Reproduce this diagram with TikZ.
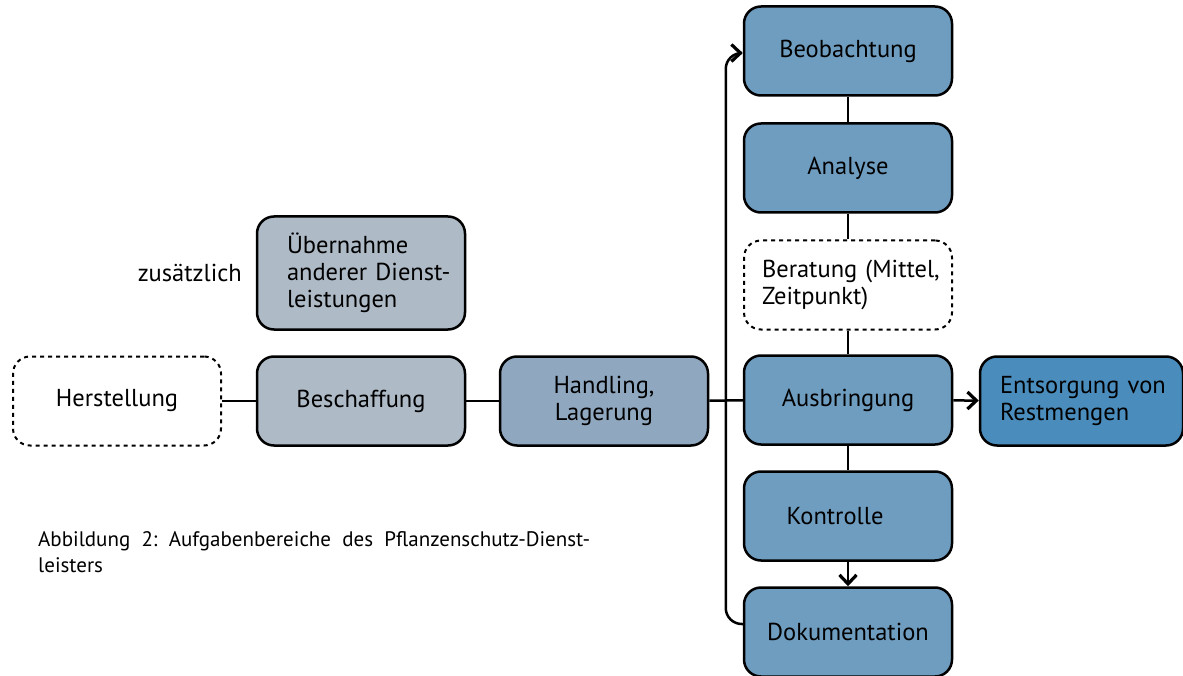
\documentclass[tikz,border=0pt]{standalone}
\usepackage{fontspec}
\setmainfont{PT Sans}
\frenchspacing
\usetikzlibrary{arrows.meta}
\definecolor{cgray}{RGB}{174,186,198}
\definecolor{cmid}{RGB}{143,168,192}
\definecolor{cblue}{RGB}{111,157,192}
\definecolor{cdark}{RGB}{74,141,189}
\tikzset{
  box/.style={draw=black, line width=2.5pt, rounded corners=17pt, minimum width=208pt, minimum height=89pt, inner sep=0pt, font=\fontsize{24.5}{27}\selectfont, align=center},
  dbox/.style={box, dash pattern=on 4pt off 4pt, line width=2pt},
  conn/.style={line width=2.5pt},
  arr/.style={line width=2.5pt, -{Straight Barb[length=9pt,width=17pt,line width=3.2pt]}},
}
\begin{document}
\begin{tikzpicture}[x=1pt,y=-1pt]
\useasboundingbox (0,0) rectangle (1183,676);
% left nodes
\node[dbox] (her) at (117,401) {Herstellung};
\node[box, fill=cgray] (bes) at (361,401) {Beschaffung};
\node[box, fill=cgray, minimum height=113pt, text width=148pt, align=left] (ueb) at (361,273) {\mbox{Übernahme}\\ \mbox{anderer Dienst-}\\ \mbox{leistungen}};
\node[font=\fontsize{24.5}{27}\selectfont, anchor=east, inner sep=0pt] (zus) at (242,273) {zusätzlich};
\node[box, fill=cmid] (han) at (604,401) {Handling,\\ Lagerung};
% column
\node[box, fill=cblue] (beo) at (848,51) {Beobachtung};
\node[box, fill=cblue] (ana) at (848,168) {Analyse};
\node[dbox, text width=172pt, align=left] (ber) at (848,285) {\mbox{Beratung (Mittel,}\\ \mbox{Zeitpunkt)}};
\node[box, fill=cblue] (aus) at (848,400) {Ausbringung};
\node[box, fill=cblue] (kon) at (848,516) {\hspace*{-26pt}Kontrolle};
\node[box, fill=cblue] (dok) at (848,632) {Dokumentation};
\node[box, fill=cdark, minimum width=203pt, text width=163pt, align=left] (ent) at (1081.5,401) {\mbox{Entsorgung von}\\ \mbox{Restmengen}};
% caption
\node[font=\fontsize{21}{26}\selectfont, anchor=north west, inner sep=0pt, align=left] (cap) at (38,531) {\makebox[552pt][s]{Abbildung 2: Aufgabenbereiche des Pflanzenschutz-Dienst-}\\ leisters};
% connectors
\draw[conn] (her) -- (bes);
\draw[conn] (bes) -- (han);
\draw[conn] (han) -- (aus);
\draw[conn] (beo) -- (ana);
\draw[conn] (ana) -- (ber);
\draw[conn] (ber) -- (aus);
\draw[conn] (aus) -- (kon);
\draw[arr] (kon) -- (dok);
\draw[arr] (aus) -- (ent);
\draw[arr, rounded corners=16pt] ([yshift=8pt]dok.west) -- ++(-17,0) |- ([yshift=-2pt]beo.west);
\end{tikzpicture}
\end{document}
